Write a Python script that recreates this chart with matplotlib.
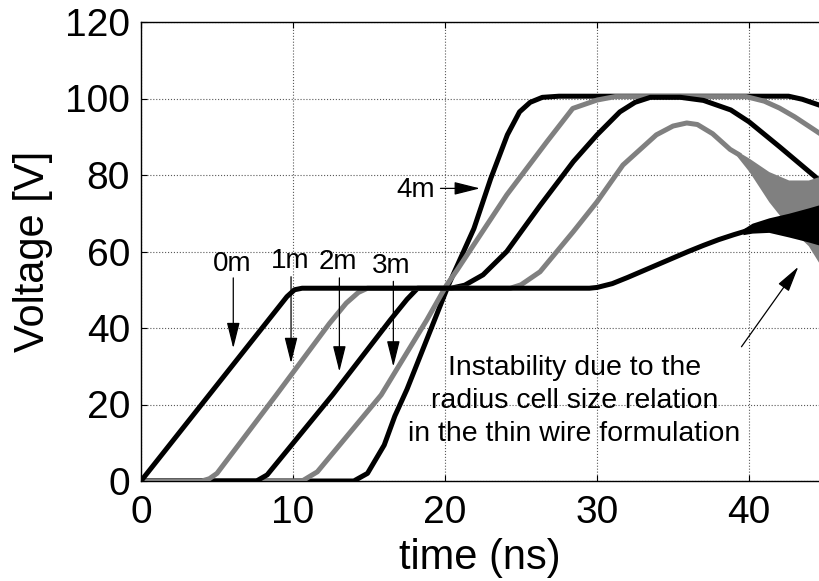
import matplotlib
matplotlib.use("Agg")
import matplotlib.pyplot as plt

plt.rcParams['font.family'] = ['Liberation Sans', 'DejaVu Sans']

# ---- data ----
t_0m = [0, 9.6, 10.1, 10.6, 29.5, 30.0, 31.0, 32.0, 33.0, 34.0, 35.0, 36.0, 37.0, 38.0, 39.0, 40.0]
v_0m = [0, 48.2, 50.0, 50.4, 50.4, 50.6, 51.6, 53.2, 54.9, 56.6, 58.3, 60.0, 61.6, 63.1, 64.4, 65.6]
band0_t = [39.6, 40.2, 41.3, 42.6, 43.9, 44.6]
band0_lo = [64.4, 64.8, 65.0, 63.8, 62.5, 61.7]
band0_hi = [65.9, 67.4, 68.8, 70.0, 71.4, 72.2]

t_1m = [0, 4.0, 4.5, 5.0, 8.9, 12.4, 13.5, 14.3, 14.9, 24.3, 25.0, 26.25, 28.44, 30.0,
        31.7, 33.9, 35.0, 35.9, 36.6, 37.6, 38.75, 39.3]
v_1m = [0, 0, 0.6, 2.0, 22.5, 41.2, 46.5, 49.3, 50.4, 50.4, 51.3, 54.7, 65.2, 73.0,
        82.6, 90.5, 92.8, 93.6, 93.2, 90.8, 86.7, 85.4]
band1_t = [39.2, 40.0, 41.3, 42.6, 43.9, 44.6]
band1_lo = [84.9, 80.9, 73.0, 66.5, 61.5, 57.0]
band1_hi = [86.3, 84.4, 80.9, 78.7, 78.7, 79.6]

t_2m = [0, 7.6, 8.3, 12.6, 16.4, 17.5, 18.2, 20.4, 21.3, 22.5, 24.06, 26.25, 28.44, 30.0,
        31.5, 32.5, 33.5, 35.5, 37.0, 38.8, 40.0, 42.0, 44.6]
v_2m = [0, 0, 1.6, 22.5, 42.1, 47.5, 50.4, 50.4, 51.2, 53.9, 60.0, 72.0, 83.5, 90.5,
        96.5, 99.0, 100.3, 100.3, 99.5, 97.0, 93.9, 87.4, 78.7]

t_3m = [0, 10.6, 11.6, 15.8, 18.8, 20.1, 20.8, 24.06, 26.7, 28.4, 30.0, 31.2, 39.8,
        41.0, 42.0, 43.0, 44.6]
v_3m = [0, 0, 2.4, 22.5, 42.1, 51.2, 55.2, 74.8, 88.7, 97.4, 99.6, 100.5, 100.5,
        99.3, 97.5, 95.2, 91.0]

t_4m = [0, 14.0, 14.9, 16.0, 16.7, 17.5, 19.0, 20.2, 21.9, 23.0, 24.1, 24.9, 25.6,
        26.4, 27.5, 42.6, 43.5, 44.6]
v_4m = [0, 0, 2.0, 9.4, 17.0, 24.0, 39.0, 51.0, 66.0, 79.0, 90.5, 96.5, 99.0,
        100.3, 100.6, 100.6, 99.8, 98.3]

xticks = [0, 10, 20, 30, 40]
yticks = [0, 20, 40, 60, 80, 100, 120]

# labels: (text, t, V)
pos_labels = ['0m', '1m', '2m', '3m']
pos_text_t = [6.0, 9.8, 12.95, 16.45]
pos_text_v = [56.7, 57.5, 57.3, 56.2]
pos_arrow_t = [6.07, 9.87, 13.05, 16.6]
pos_arrow_v0 = [53.1, 53.4, 53.1, 52.2]
pos_arrow_v1 = [34.7, 30.8, 28.6, 29.9]

note = "Instability due to the\nradius cell size relation\nin the thin wire formulation"

BLACK = '#000000'
GRAY = '#808080'
LW = 3.6

fig = plt.figure(figsize=(8.19, 5.81), dpi=100)
ax = fig.add_axes([141 / 819, 100 / 581, 678 / 819, 459 / 581])

ax.plot(t_4m, v_4m, color=BLACK, lw=LW, solid_joinstyle='round', zorder=3)
ax.plot(t_3m, v_3m, color=GRAY, lw=LW, solid_joinstyle='round', zorder=4)
ax.plot(t_2m, v_2m, color=BLACK, lw=LW, solid_joinstyle='round', zorder=5)
ax.plot(t_1m, v_1m, color=GRAY, lw=LW, solid_joinstyle='round', zorder=6)
ax.fill_between(band1_t, band1_lo, band1_hi, color=GRAY, lw=0, zorder=6)
ax.plot(t_0m, v_0m, color=BLACK, lw=LW, solid_joinstyle='round', zorder=7)
ax.fill_between(band0_t, band0_lo, band0_hi, color=BLACK, lw=0, zorder=7)

ax.set_xlim(0, 44.6)
ax.set_ylim(0, 120)
ax.set_xticks(xticks)
ax.set_yticks(yticks)
ax.grid(True, linestyle=':', color='0.35', linewidth=0.8)
ax.set_axisbelow(True)
ax.tick_params(direction='in', length=4, width=0.8, top=True, right=False,
               labelsize=28, pad=8)
ax.tick_params(axis='x', pad=10)
ax.spines['right'].set_visible(False)
for s in ['left', 'bottom', 'top']:
    ax.spines[s].set_linewidth(1.0)

ax.set_xlabel('time (ns)', fontsize=30)
ax.set_ylabel('Voltage [V]', fontsize=30)
ax.xaxis.label.set_va('center')
ax.xaxis.set_label_coords(0.5, -0.168)
ax.yaxis.label.set_va('center')
ax.yaxis.set_label_coords(-0.159, 0.5)

arrow_kw = dict(arrowstyle='-|>,head_length=0.8,head_width=0.2', color='black',
                lw=0.9, mutation_scale=20, shrinkA=0, shrinkB=0)
for lab, tx, ty, ax_t, v0, v1 in zip(pos_labels, pos_text_t, pos_text_v,
                                      pos_arrow_t, pos_arrow_v0, pos_arrow_v1):
    ax.text(tx, ty, lab, fontsize=20, ha='center', va='center', zorder=10)
    ax.annotate('', xy=(ax_t, v1), xytext=(ax_t, v0), arrowprops=arrow_kw, zorder=10)

ax.text(18.1, 76.1, '4m', fontsize=20, ha='center', va='center', zorder=10)
ax.annotate('', xy=(22.3, 76.5), xytext=(19.7, 76.5), arrowprops=arrow_kw, zorder=10)

ax.text(28.5, 21.0, note, fontsize=20.5, ha='center', va='center', linespacing=1.35,
        zorder=10)
ax.annotate('', xy=(43.24, 56.0), xytext=(39.5, 35.1), arrowprops=arrow_kw, zorder=10)

fig.savefig('out.png', dpi=100)
